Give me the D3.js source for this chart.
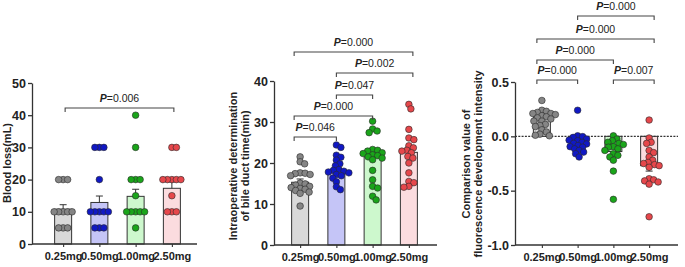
<!DOCTYPE html>
<html>
<head>
<meta charset="utf-8">
<script src="https://cdn.jsdelivr.net/npm/d3@7"></script>
<style>
body{margin:0;background:#fff;}
text{font-family:Arial,"Liberation Sans",sans-serif;}
</style>
</head>
<body>
<div id="chart"></div>
<script>
// groups shared by the three panels
var groups = ["0.25mg", "0.50mg", "1.00mg", "2.50mg"];

// panel 1 : blood loss (mL)
var bloodLoss = [
	[20, 20, 20, 10, 10, 10, 10, 10, 5, 5, 5],
	[30, 30, 30, 20, 10, 10, 10, 10, 10, 5, 5, 5],
	[40, 30, 20, 20, 20, 15, 10, 10, 10, 10, 10, 5],
	[30, 30, 20, 20, 20, 20, 20, 15, 10, 10, 10]
];
var bloodMean = [10.8, 12.9, 14.8, 17.3];
var bloodSem = [1.4, 2.0, 2.2, 2.0];
var bloodTicks = [0, 10, 20, 30, 40, 50];
var bloodPairs = [[0, 3]];
var bloodP = ["0.006"];

// panel 2 : bile duct time (min)
var bileTime = [
	[21.5, 20.3, 19.8, 17.6, 17.5, 17.4, 17.2, 16.9, 15.1, 14.9, 14.6, 14.3, 14.0, 13.8, 13.6, 13.3, 12.9, 12.6, 9.5],
	[24.4, 23.8, 21.9, 21.4, 20.7, 19.8, 19.3, 18.4, 18.2, 18.0, 17.8, 17.6, 17.2, 16.9, 16.3, 15.4, 14.2, 13.5],
	[30.2, 28.3, 27.8, 27.4, 23.3, 23.1, 22.9, 22.5, 22.3, 22.0, 21.8, 21.5, 21.2, 20.8, 18.2, 15.9, 14.3, 13.9, 11.9, 11.0],
	[34.3, 33.2, 28.2, 26.1, 25.7, 24.2, 23.7, 23.1, 22.9, 22.5, 21.6, 21.2, 20.0, 17.6, 15.5, 15.2, 14.3, 14.1]
];
var bileMean = [15.3, 18.1, 21.5, 22.6];
var bileSem = [0.8, 0.6, 1.0, 1.3];
var bileTicks = [0, 10, 20, 30, 40];
var bilePairs = [[0, 1], [0, 2], [1, 2], [1, 3], [0, 3]];
var bileP = ["0.046", "0.000", "0.047", "0.002", "0.000"];

// panel 3 : fluorescence comparison value
var fluo = [
	[0.33, 0.24, 0.23, 0.22, 0.21, 0.21, 0.20, 0.19, 0.18, 0.17, 0.16, 0.14, 0.14, 0.11, 0.10, 0.09, 0.06, 0.04, 0.02, 0.01, 0.005],
	[0.24, 0.005, -0.003, -0.01, -0.025, -0.035, -0.04, -0.055, -0.065, -0.07, -0.085, -0.095, -0.10, -0.115, -0.13, -0.145, -0.16, -0.19],
	[0.005, -0.025, -0.04, -0.055, -0.065, -0.075, -0.095, -0.10, -0.115, -0.13, -0.16, -0.175, -0.19, -0.22, -0.32, -0.58],
	[0.15, -0.015, -0.055, -0.065, -0.13, -0.15, -0.19, -0.22, -0.24, -0.25, -0.26, -0.27, -0.285, -0.39, -0.40, -0.41, -0.42, -0.44, -0.74]
];
var fluoMean = [0.18, -0.06, -0.14, -0.27];
var fluoSem = [0.02, 0.02, 0.03, 0.05];
var fluoTicks = [-1.0, -0.5, 0.0, 0.5];
var fluoPairs = [[0, 1], [3, 2], [0, 2], [0, 3], [1, 3]];
var fluoP = ["0.000", "0.007", "0.000", "0.000", "0.000"];

var barFill = ["#d9d9d9", "#c5c5f7", "#cdf8cd", "#fbdcdf"];
var dotFill = ["#858585", "#1018c4", "#1aa51a", "#e6474b"];
var ink = "#333";

var svg = d3.select("#chart").append("svg")
	.attr("width", 685)
	.attr("height", 267);

// simple deterministic beeswarm: nearest free horizontal slot
function swarm(vals, yScale, cx, gap){
	var placed = [];
	vals.map(function(v){ return yScale(v); })
		.sort(function(a, b){ return a - b; })
		.forEach(function(py){
			for (var k = 0; k < 200; k++) {
				var dx = (k % 2 ? 1 : -1) * Math.ceil(k / 2) * 0.5;
				var ok = placed.every(function(p){
					var ddx = p.x - (cx + dx), ddy = p.y - py;
					return ddx * ddx + ddy * ddy >= gap * gap;
				});
				if (ok) { placed.push({x: cx + dx, y: py}); break; }
			}
		});
	return placed;
}

function drawPanel(o){
	var g = svg.append("g");

	var x = d3.scalePoint().domain(groups).range(o.band).padding(0.5);
	var y = d3.scaleLinear().domain(o.domain).range([o.bottom, o.top]);
	var base = y(Math.max(o.domain[0], 0));
	var bw = 17;

	// bars
	g.selectAll(".bar").data(o.mean).enter().append("rect")
		.attr("x", function(d, i){ return x(groups[i]) - bw / 2; })
		.attr("width", bw)
		.attr("y", function(d){ return Math.min(y(d), base); })
		.attr("height", function(d){ return Math.abs(y(d) - base); })
		.attr("fill", function(d, i){ return barFill[i]; })
		.attr("stroke", ink)
		.attr("stroke-width", 1);

	// zero line for panel 3
	if (o.zeroLine) {
		g.append("line")
			.attr("x1", o.axisX).attr("x2", o.axisEnd)
			.attr("y1", y(0)).attr("y2", y(0))
			.attr("stroke", ink).attr("stroke-width", 1.2)
			.attr("stroke-dasharray", "2,1.3");
	}

	// error bars (mean + sem, away from zero)
	o.mean.forEach(function(m, i){
		var cx = x(groups[i]);
		var tip = y(m + (m < 0 ? -o.sem[i] : o.sem[i]));
		g.append("line").attr("x1", cx).attr("x2", cx)
			.attr("y1", y(m)).attr("y2", tip)
			.attr("stroke", ink).attr("stroke-width", 1);
		g.append("line").attr("x1", cx - 3.5).attr("x2", cx + 3.5)
			.attr("y1", tip).attr("y2", tip)
			.attr("stroke", ink).attr("stroke-width", 1);
	});

	// points
	o.values.forEach(function(vals, i){
		var pts = swarm(vals, y, x(groups[i]), o.gap);
		g.selectAll(".pt" + i).data(pts).enter().append("circle")
			.attr("cx", function(d){ return d.x; })
			.attr("cy", function(d){ return d.y; })
			.attr("r", 3.3)
			.attr("fill", dotFill[i])
			.attr("stroke", "#2a2a2a")
			.attr("stroke-width", 0.6);
	});

	// y axis
	var ya = g.append("g")
		.attr("transform", "translate(" + o.axisX + ",0)")
		.call(d3.axisLeft(y).tickValues(o.ticks).tickSize(4).tickSizeOuter(0)
			.tickFormat(o.fmt));
	ya.select(".domain").attr("stroke", ink).attr("stroke-width", 1.3);
	ya.selectAll(".tick line").attr("stroke", ink).attr("stroke-width", 1.3);
	ya.selectAll(".tick text")
		.attr("font-family", "Arial, 'Liberation Sans', sans-serif")
		.attr("font-size", 12.5).attr("font-weight", "bold").attr("fill", "#222")
		.attr("x", -6);

	// x axis
	var xa = g.append("g")
		.attr("transform", "translate(0," + o.bottom + ")")
		.call(d3.axisBottom(x).tickSize(3).tickSizeOuter(0));
	xa.select(".domain").remove();
	xa.append("line").attr("x1", o.axisX).attr("x2", o.axisEnd)
		.attr("stroke", ink).attr("stroke-width", 1.3);
	xa.selectAll(".tick line").attr("stroke", ink).attr("stroke-width", 1.1);
	xa.selectAll(".tick text")
		.attr("font-family", "Arial, 'Liberation Sans', sans-serif")
		.attr("font-size", 11).attr("font-weight", "bold").attr("fill", "#222")
		.attr("y", 8);

	// axis title
	var tt = g.append("text")
		.attr("transform", "translate(" + o.titleX + "," + o.titleY + ") rotate(-90)")
		.attr("text-anchor", "middle")
		.attr("font-size", 11).attr("font-weight", "bold").attr("fill", "#222");
	o.title.forEach(function(line, i){
		tt.append("tspan").attr("x", 0).attr("dy", i ? 12 : 0).text(line);
	});

	// significance brackets
	o.pairs.forEach(function(p, i){
		var a = Math.min(p[0], p[1]), b = Math.max(p[0], p[1]);
		var x1 = x(groups[a]) + (a === 0 ? o.edge[0] : 0);
		var x2 = x(groups[b]) + (b === 3 ? o.edge[1] : 0);
		var by = o.bracketY[i];
		g.append("path")
			.attr("d", "M" + x1 + "," + (by + 4) + "V" + by + "H" + x2 + "V" + (by + 4))
			.attr("fill", "none").attr("stroke", "#444").attr("stroke-width", 1.1);
		var t = g.append("text")
			.attr("x", (x1 + x2) / 2).attr("y", by - 6)
			.attr("text-anchor", "middle")
			.attr("font-size", 10.5).attr("fill", "#222");
		t.append("tspan").attr("font-weight", "bold").attr("font-style", "italic").text("P");
		t.append("tspan").text("=" + o.p[i]);
	});
}

drawPanel({
	values: bloodLoss, mean: bloodMean, sem: bloodSem,
	domain: [0, 50], ticks: bloodTicks, fmt: d3.format("d"),
	top: 83, bottom: 244, axisX: 32, axisEnd: 197, band: [45, 190],
	gap: 4.4, title: ["Blood loss(mL)"], titleX: 11, titleY: 163,
	pairs: bloodPairs, p: bloodP, bracketY: [108], edge: [2, 2]
});

drawPanel({
	values: bileTime, mean: bileMean, sem: bileSem,
	domain: [0, 40], ticks: bileTicks, fmt: d3.format("d"),
	top: 81, bottom: 245, axisX: 274, axisEnd: 437, band: [282, 427],
	gap: 4.8, title: ["Intraoperative determination", "of bile duct time(min)"],
	titleX: 237, titleY: 166,
	pairs: bilePairs, p: bileP, bracketY: [137, 116, 95, 73, 52], edge: [-6, 4]
});

drawPanel({
	values: fluo, mean: fluoMean, sem: fluoSem,
	domain: [-1.0, 0.5], ticks: fluoTicks, fmt: function(d){ return d.toFixed(1); },
	top: 82, bottom: 245, axisX: 515, axisEnd: 678, band: [524, 667],
	gap: 4.6, title: ["Comparison value of", "fluorescence development intensity"],
	titleX: 470, titleY: 164, zeroLine: true,
	pairs: fluoPairs, p: fluoP, bracketY: [80, 80, 60, 39, 16], edge: [-5, 5]
});
</script>
</body>
</html>
